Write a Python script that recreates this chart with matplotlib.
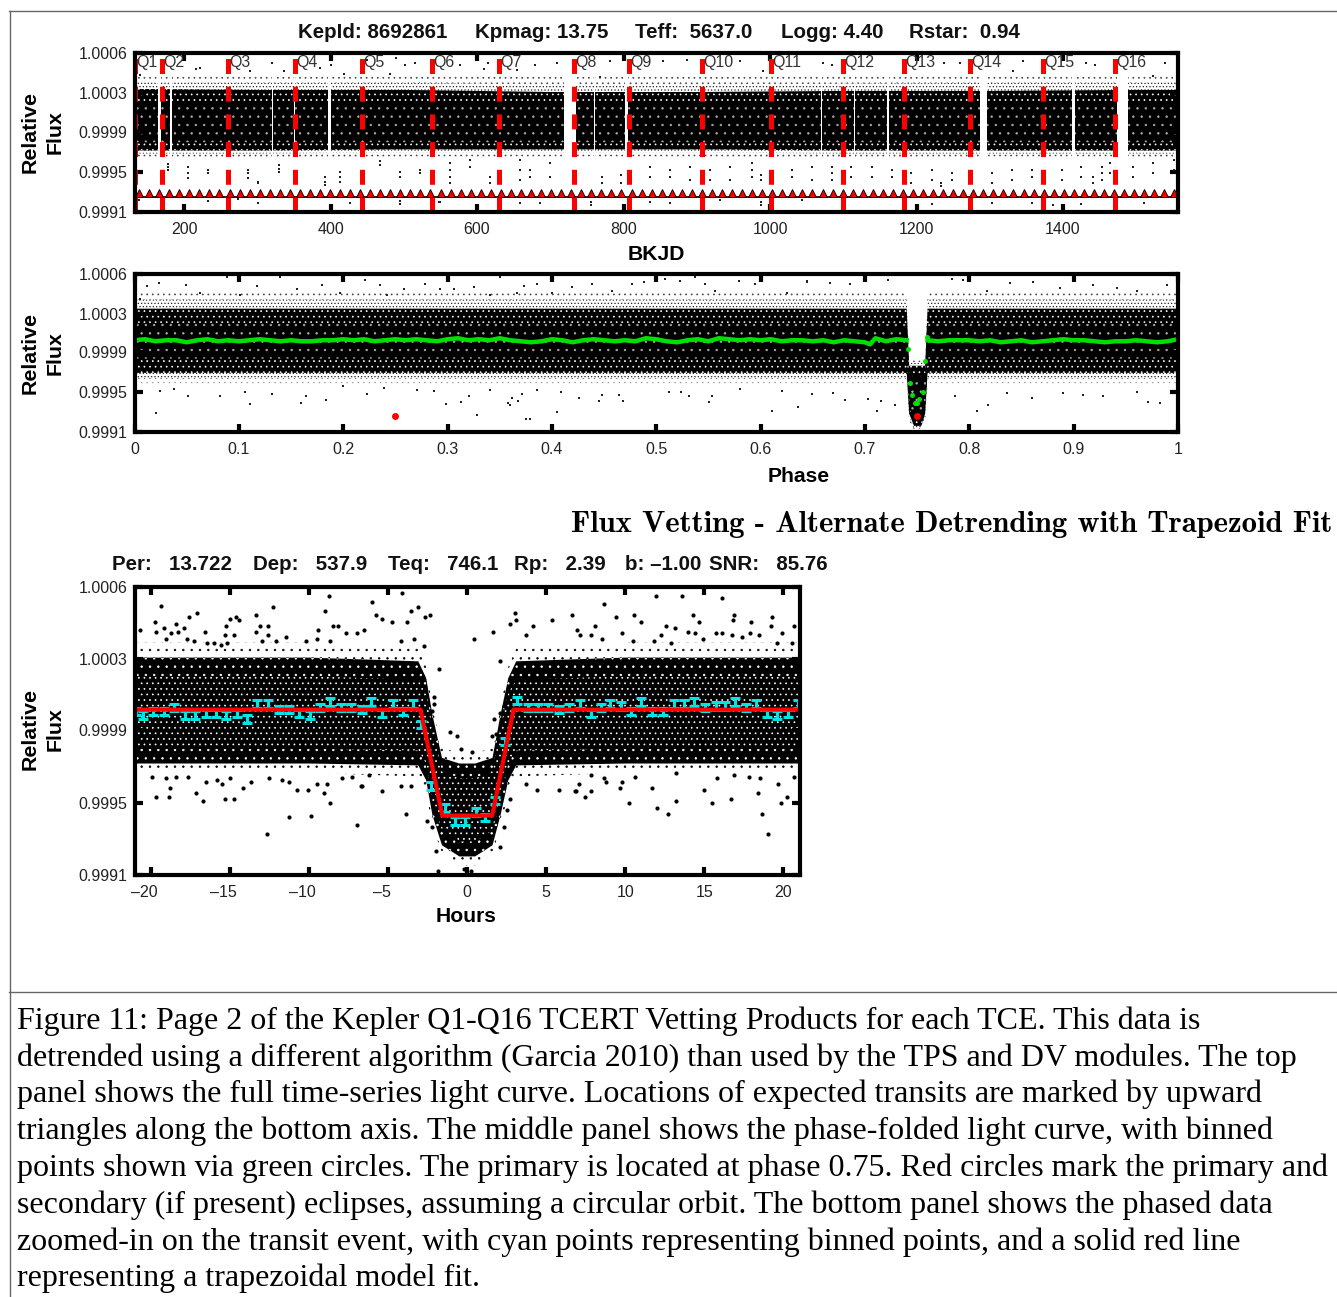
import matplotlib
matplotlib.use('Agg')
import matplotlib.pyplot as plt
from matplotlib.lines import Line2D

plt.rcParams['font.family'] = ['Liberation Sans', 'DejaVu Sans']
plt.rcParams['hatch.linewidth'] = 0.5

W, H = 1337, 1297

# top panel: light curve
tick_y = [0.9991, 0.99949, 0.99988, 1.00026, 1.00065]
tick_y_labels = ['0.9991', '0.9995', '0.9999', '1.0003', '1.0006']
ylims = (0.9991, 1.00065)
bkjd_ticks = [200, 400, 600, 800, 1000, 1200, 1400]
q_names = ['Q1', 'Q2', 'Q3', 'Q4', 'Q5', 'Q6', 'Q7', 'Q8', 'Q9', 'Q10', 'Q11', 'Q12', 'Q13', 'Q14', 'Q15', 'Q16']
q_starts = [133.1, 169.6, 260, 351.5, 443, 538.6, 630, 732.4, 807.5, 907, 1001.4, 1099.7, 1183, 1273, 1372.7, 1471]
gap_from = [165, 181, 320, 350, 396, 719, 760, 802, 1069, 1114, 1160, 1287, 1412, 1474]
gap_to = [169, 184, 322, 352, 400, 735, 761, 806, 1071, 1116, 1163, 1296, 1416, 1489]
band_t = [132, 300, 500, 700, 900, 1100, 1300, 1500, 1557]
lc_outer_hi = [1.00044, 1.00043, 1.00044, 1.00042, 1.00042, 1.00043, 1.00044, 1.00043, 1.00045]
lc_outer_lo = [0.99964, 0.99963, 0.99964, 0.99964, 0.99964, 0.99963, 0.99964, 0.99964, 0.99963]
lc_fade_hi = [1.00037, 1.00036, 1.00036, 1.00034, 1.00034, 1.00035, 1.00036, 1.00036, 1.00037]
lc_fade_lo = [0.99967, 0.99967, 0.99968, 0.99968, 0.99968, 0.99967, 0.99967, 0.99967, 0.99967]
lc_mid_hi = [1.00030, 1.00029, 1.00029, 1.00027, 1.00027, 1.00028, 1.00028, 1.00029, 1.00029]
lc_mid_lo = [0.99970, 0.99970, 0.99971, 0.99971, 0.99971, 0.99970, 0.99970, 0.99970, 0.99970]
lc_core_hi = [1.00018, 1.00017, 1.00017, 1.00017, 1.00017, 1.00017, 1.00017, 1.00017, 1.00017]
lc_core_lo = [0.99978, 0.99978, 0.99978, 0.99978, 0.99978, 0.99978, 0.99978, 0.99978, 0.99978]
transit_t = [138.6, 152.3, 166.0, 179.8, 193.5, 207.2, 220.9, 234.7, 248.4, 262.1, 275.8, 289.5, 303.3,
             317.0, 330.7, 344.4, 358.2, 371.9, 385.6, 399.3, 413.0, 426.8, 440.5, 454.2, 467.9, 481.7,
             495.4, 509.1, 522.8, 536.5, 550.3, 564.0, 577.7, 591.4, 605.1, 618.9, 632.6, 646.3, 660.0,
             673.8, 687.5, 701.2, 714.9, 728.6, 742.4, 756.1, 769.8, 783.5, 797.2, 811.0, 824.7, 838.4,
             852.1, 865.9, 879.6, 893.3, 907.0, 920.7, 934.5, 948.2, 961.9, 975.6, 989.3, 1003.1, 1016.8,
             1030.5, 1044.2, 1058.0, 1071.7, 1085.4, 1099.1, 1112.8, 1126.6, 1140.3, 1154.0, 1167.7, 1181.4,
             1195.2, 1208.9, 1222.6, 1236.3, 1250.1, 1263.8, 1277.5, 1291.2, 1304.9, 1318.7, 1332.4, 1346.1,
             1359.8, 1373.5, 1387.3, 1401.0, 1414.7, 1428.4, 1442.2, 1455.9, 1469.6, 1483.3, 1497.0, 1510.8,
             1524.5, 1538.2, 1551.9]
lc_t = [178.6, 178.6, 178.6, 206, 206, 206, 233, 233, 288, 288, 288, 301.5, 301.5, 330, 330, 330, 392.5, 392.5, 392.5,
        413, 413, 413, 468, 468, 495, 495, 522, 522, 563, 563, 563, 563, 590, 590, 618, 618, 659, 659, 659, 672, 672,
        700, 700, 770, 770, 797, 797, 836, 836, 863, 863, 891, 891, 918, 918, 945, 945, 975, 975, 975, 988, 988,
        1030, 1030, 1057, 1057, 1084, 1084, 1084, 1111, 1111, 1139, 1139, 1166, 1166, 1193, 1193, 1221, 1221, 1234, 1234,
        1248, 1248, 1303, 1303, 1330, 1330, 1357, 1357, 1398, 1398, 1425, 1425, 1441, 1441, 1453, 1453, 1453, 1464, 1464,
        1496, 1496, 1523, 1523, 1551, 1551,
        138, 233, 274, 301, 426, 495, 495, 548, 549, 659, 686, 755, 755, 836, 863, 932, 988, 988,
        1043, 1221, 1303, 1357, 1387, 1425, 1510,
        222, 217, 320, 490, 502, 515, 577, 450, 401, 290, 336, 140, 386, 418, 481, 609, 654, 679, 709, 615, 768, 781,
        854, 886, 959, 991, 1073, 1084, 1237, 1259, 1346, 1432, 1444, 1539, 1332, 1523]
lc_f = [0.99957, 0.99954, 0.99951, 0.99954, 0.99948, 0.99943, 0.99951, 0.99948, 0.99951, 0.99948, 0.99943, 0.99939, 0.99938,
        0.99956, 0.99952, 0.99949, 0.99944, 0.99939, 0.99936, 0.99949, 0.99944, 0.99939, 0.99960, 0.99956, 0.99949, 0.99944,
        0.99951, 0.99948, 0.99958, 0.99951, 0.99944, 0.99938, 0.99961, 0.99954, 0.99944, 0.99938, 0.99961, 0.99951, 0.99941,
        0.99951, 0.99944, 0.99958, 0.99944, 0.99944, 0.99938, 0.99946, 0.99938, 0.99954, 0.99944, 0.99951, 0.99944, 0.99954,
        0.99941, 0.99951, 0.99941, 0.99954, 0.99941, 0.99958, 0.99951, 0.99944, 0.99946, 0.99941,
        0.99951, 0.99944, 0.99954, 0.99941, 0.99954, 0.99948, 0.99941, 0.99954, 0.99944, 0.99954, 0.99944, 0.99951, 0.99944,
        0.99948, 0.99938, 0.99951, 0.99941, 0.99938, 0.99935, 0.99948, 0.99941, 0.99948, 0.99938, 0.99951, 0.99941, 0.99951,
        0.99944, 0.99951, 0.99941, 0.99954, 0.99944, 0.99944, 0.99938, 0.99954, 0.99948, 0.99941, 0.99958, 0.99948,
        0.99954, 0.99944, 0.99958, 0.99948, 0.99961, 0.99951,
        0.99922, 0.99921, 0.99923, 0.99919, 0.99919, 0.99921, 0.99918, 0.99920, 0.99920, 0.99919, 0.99919, 0.99920, 0.99917,
        0.99920, 0.99919, 0.99922, 0.99920, 0.99917,
        0.99922, 0.99918, 0.99919, 0.99919, 0.99917, 0.99918, 0.99919,
        1.00050, 1.00049, 1.00055, 1.00060, 1.00053, 1.00055, 1.00053, 1.00058, 1.00053, 1.00047, 1.00047, 1.00044, 1.00050,
        1.00045, 1.00045, 1.00049, 1.00048, 1.00053, 1.00055, 1.00055, 1.00042, 1.00057,
        1.00057, 1.00058, 1.00057, 1.00047, 1.00055, 1.00053, 1.00055, 1.00055, 1.00057, 1.00055, 1.00053, 1.00055, 1.00047, 1.00043]

# middle panel: phase folded
phase_ticks = [0, 0.1, 0.2, 0.3, 0.4, 0.5, 0.6, 0.7, 0.8, 0.9, 1]
phase_labels = ['0', '0.1', '0.2', '0.3', '0.4', '0.5', '0.6', '0.7', '0.8', '0.9', '1']
band_p = [0, 0.2, 0.4, 0.6, 0.735, 0.7400, 0.7424, 0.7470, 0.7540, 0.7577, 0.7600, 0.7650, 0.85, 1]
pf_outer_hi = [1.00049, 1.00049, 1.00049, 1.00049, 1.00049, 1.00049, 0.99980, 0.99980, 0.99980, 0.99980, 1.00049, 1.00049, 1.00049, 1.00049]
pf_outer_lo = [0.99958, 0.99958, 0.99958, 0.99958, 0.99958, 0.99958, 0.99920, 0.99912, 0.99912, 0.99920, 0.99958, 0.99958, 0.99958, 0.99958]
pf_fade_hi = [1.00040, 1.00040, 1.00040, 1.00040, 1.00040, 1.00040, 0.99978, 0.99978, 0.99978, 0.99978, 1.00040, 1.00040, 1.00040, 1.00040]
pf_fade_lo = [0.99963, 0.99963, 0.99963, 0.99963, 0.99963, 0.99963, 0.99924, 0.99914, 0.99914, 0.99924, 0.99963, 0.99963, 0.99963, 0.99963]
pf_mid_hi = [1.00031, 1.00031, 1.00031, 1.00031, 1.00031, 1.00031, 0.99975, 0.99975, 0.99975, 0.99975, 1.00031, 1.00031, 1.00031, 1.00031]
pf_mid_lo = [0.99968, 0.99968, 0.99968, 0.99968, 0.99968, 0.99968, 0.99928, 0.99916, 0.99916, 0.99928, 0.99968, 0.99968, 0.99968, 0.99968]
pf_core_hi = [1.00017, 1.00017, 1.00017, 1.00017, 1.00017, 1.00017, 0.99965, 0.99965, 0.99965, 0.99965, 1.00017, 1.00017, 1.00017, 1.00017]
pf_core_lo = [0.99982, 0.99982, 0.99982, 0.99982, 0.99982, 0.99982, 0.99934, 0.99922, 0.99922, 0.99934, 0.99982, 0.99982, 0.99982, 0.99982]
pf_p = [0.0207, 0.111, 0.1596, 0.1647, 0.1839, 0.2988, 0.2228, 0.1318, 0.106, 0.0817, 0.0514, 0.0249, 0.0376, 0.2, 0.2707, 0.2388, 0.2867,
        0.0239, 0.0494, 0.0887, 0.1174, 0.1398, 0.1797, 0.221, 0.2356, 0.2787, 0.2579, 0.0121, 0.0057, 0.0632, 0.1015, 0.1558, 0.197, 0.242, 0.293,
        0.7113, 0.7289, 0.7155, 0.7034, 0.681, 0.6692, 0.6491, 0.7864, 0.8177, 0.8071, 0.8604, 0.9715, 0.9827, 0.9604, 0.9285, 0.9093, 0.8901, 0.8359,
        0.6443, 0.6666, 0.6858, 0.7225, 0.74, 0.7832, 0.7943, 0.8614, 0.839, 0.9189, 0.9891, 0.9604, 0.9412, 0.887, 0.8167,
        0.3282, 0.3755, 0.3787, 0.4048, 0.6108, 0.6354, 0.2985, 0.3129, 0.3576, 0.3602, 0.3672, 0.3617, 0.3713, 0.3202, 0.341, 0.3857, 0.4087, 0.4256,
        0.4448, 0.448, 0.4639, 0.468, 0.5118, 0.5236, 0.531, 0.5501, 0.5533, 0.5805, 0.6204, 0.6491,
        0.3499, 0.3857, 0.3729, 0.325, 0.4384, 0.4192, 0.4767, 0.4879, 0.5086, 0.523, 0.5469, 0.5374, 0.5789, 0.5948, 0.6443, 0.3059, 0.341, 0.3665, 0.4,
        0.4575, 0.5565, 0.6252]
pf_f = [0.99929, 0.99937, 0.99938, 0.99945, 0.99941, 0.99937, 0.99947, 0.99947, 0.99949, 0.99945, 0.99945, 0.99950, 0.99952, 0.99955, 0.99951, 0.99953, 0.99950,
        1.00056, 1.00054, 1.00062, 1.00053, 1.00062, 1.00054, 1.00059, 1.00054, 1.00055, 1.00050, 1.00053, 1.00040, 1.00046, 1.00044, 1.00050, 1.00046, 1.00044, 1.00050,
        0.99931, 0.99936, 0.99940, 0.99942, 0.99941, 0.99948, 0.99947, 0.99945, 0.99936, 0.99931, 0.99943, 0.99939, 0.99938, 0.99949, 0.99945, 0.99946, 0.99948, 0.99948,
        1.00057, 1.00056, 1.00055, 1.00059, 1.00064, 1.00060, 1.00059, 1.00057, 1.00056, 1.00054, 1.00054, 1.00048, 1.00051, 1.00051, 1.00048,
        0.99927, 0.99923, 0.99923, 0.99930, 0.99931, 0.99935, 0.99937, 0.99939, 0.99938, 0.99936, 0.99940, 0.99943, 0.99947, 0.99945, 0.99951, 0.99951, 0.99949, 0.99943,
        0.99940, 0.99946, 0.99946, 0.99940, 0.99949, 0.99949, 0.99945, 0.99939, 0.99945, 0.99952, 0.99950, 0.99947,
        1.00062, 1.00055, 1.00053, 1.00052, 1.00055, 1.00052, 1.00055, 1.00057, 1.00060, 1.00058, 1.00055, 1.00062, 1.00058, 1.00055, 1.00058, 1.00050, 1.00044, 1.00046, 1.00046,
        1.00048, 1.00048, 1.00046]
bin_p_left = [0.00, 0.01, 0.02, 0.03, 0.04, 0.05, 0.06, 0.07, 0.08, 0.09, 0.10, 0.11, 0.12, 0.13, 0.14, 0.15, 0.16, 0.17, 0.18, 0.19,
              0.20, 0.21, 0.22, 0.23, 0.24, 0.25, 0.26, 0.27, 0.28, 0.29, 0.30, 0.31, 0.32, 0.33, 0.34, 0.35, 0.36, 0.37, 0.38, 0.39,
              0.40, 0.41, 0.42, 0.43, 0.44, 0.45, 0.46, 0.47, 0.48, 0.49, 0.50, 0.51, 0.52, 0.53, 0.54, 0.55, 0.56, 0.57, 0.58, 0.59,
              0.60, 0.61, 0.62, 0.63, 0.64, 0.65, 0.66, 0.67, 0.68, 0.69, 0.70, 0.705, 0.71, 0.72, 0.73, 0.74]
bin_f_left = [1.00000, 1.00001, 0.99999, 1.00000, 1.00000, 0.99998, 1.00000, 1.00001, 0.99999, 1.00000, 0.99999, 1.00000, 1.00001, 1.00000, 0.99999, 1.00000, 0.99999, 0.99999, 1.00000, 1.00000,
              1.00001, 1.00000, 1.00001, 0.99999, 1.00000, 1.00001, 1.00000, 1.00001, 1.00000, 0.99999, 1.00001, 1.00002, 1.00000, 1.00001, 1.00000, 1.00002, 1.00000, 0.99999, 0.99998, 0.99999,
              1.00001, 1.00000, 0.99998, 1.00000, 1.00001, 1.00000, 0.99999, 1.00000, 0.99999, 1.00002, 1.00001, 0.99999, 0.99998, 1.00000, 1.00001, 0.99999, 1.00002, 1.00001, 1.00000, 1.00001,
              1.00000, 1.00001, 0.99999, 1.00000, 1.00000, 0.99999, 1.00000, 0.99998, 1.00000, 0.99999, 0.99998, 0.99996, 1.00002, 0.99999, 1.00001, 1.00000]
bin_p_right = [0.76, 0.77, 0.78, 0.79, 0.80, 0.81, 0.82, 0.83, 0.84, 0.85, 0.86, 0.87, 0.88, 0.89, 0.90, 0.91, 0.92, 0.93, 0.94, 0.95, 0.96, 0.97, 0.98, 0.99, 1.0]
bin_f_right = [1.00000, 0.99999, 1.00000, 1.00000, 1.00000, 0.99999, 1.00000, 0.99998, 0.99999, 1.00000, 0.99998, 0.99999, 1.00000, 1.00001, 1.00000, 1.00000, 0.99999, 0.99998, 0.99999, 0.99999, 1.00000, 0.99999, 0.99998, 0.99999, 1.00001]
bin_p_dip = [0.7411, 0.7577, 0.7596, 0.7436, 0.7455, 0.7481, 0.7497, 0.7522, 0.7554]
bin_f_dip = [0.99991, 0.99980, 1.00003, 0.99958, 0.99946, 0.99938, 0.99938, 0.99942, 0.99949]
eclipse_p = [0.25, 0.75]
eclipse_f = [0.99926, 0.99926]

# bottom panel: zoom on the transit
hour_ticks = [-20, -15, -10, -5, 0, 5, 10, 15, 20]
hour_labels = ['–20   ', '–15   ', '–10   ', '–5   ', '0', '5', '10', '15', '20']
band_h = [-21.07, -10, -3.1, -2.6, -2.2, -1.6, -0.5, 0.5, 1.6, 2.1, 2.6, 3.1, 10, 21.07]
zm_outer_hi = [1.00035, 1.00035, 1.00032, 1.00022, 1.00000, 0.99978, 0.99976, 0.99976, 0.99978, 1.00000, 1.00022, 1.00032, 1.00035, 1.00035]
zm_outer_lo = [0.99965, 0.99965, 0.99963, 0.99954, 0.99936, 0.99922, 0.99915, 0.99915, 0.99922, 0.99936, 0.99954, 0.99963, 0.99965, 0.99965]
zm_mid_hi = [1.00027, 1.00027, 1.00025, 1.00016, 0.99996, 0.99973, 0.99970, 0.99970, 0.99973, 0.99996, 1.00016, 1.00025, 1.00027, 1.00027]
zm_mid_lo = [0.99970, 0.99970, 0.99969, 0.99961, 0.99942, 0.99926, 0.99920, 0.99920, 0.99926, 0.99942, 0.99961, 0.99969, 0.99970, 0.99970]
zm_core_hi = [1.00017, 1.00017, 1.00015, 1.00008, 0.99990, 0.99966, 0.99962, 0.99962, 0.99966, 0.99990, 1.00008, 1.00015, 1.00017, 1.00017]
zm_core_lo = [0.99978, 0.99978, 0.99977, 0.99970, 0.99950, 0.99934, 0.99928, 0.99928, 0.99934, 0.99950, 0.99970, 0.99977, 0.99978, 0.99978]
zm_h = [-19.42, -17.11, -17.62, -19.8, -18.47, -15.3, -15.05, -14.67, -14.44, -13.4, -12.28, -13.15, -12.6, -13.4, -8.76, -9.0, -8.5, -8.17, -9.46,
        -16.63, -20.74, -19.2, -19.73, -18.3, -17.94, -15.34, -14.77, -12.6, -6.55, -6.97, -7.7, -18.78, -19.1, -17.73, -17.3, -16.5, -16.04, -15.6,
        -15.2, -13, -11.5, -12.14, -10.2, -9.54, -8.72,
        -19.7, -18.9, -18.8, -17.16, -16.74, -15.36, -14.77, -12.68, -11.29, -9.88, -6.97, -8.68, -6.71, -9.06, -10.79, -10.07, -14.2, -19.94, -19.1,
        -18.47, -17.66, -16.57, -15.83, -15.5, -15.05, -13.72, -12.56, -11.7, -11.3, -9.5, -8.87, -7.92, -7.28,
        8.67, 11.94, 13.57, 16.1, 9.41, 10.59, 11.03, 14.32, 14.66, 16.9, 16.8, 17.97, 19.3, 19.24, 20.67, 8.12, 12.6, 13.14, 13.99, 14.39, 15.72, 16.16,
        9.81, 19.9, 17.93, 7.85, 8.54, 12.24, 10.49, 11.81, 12.87, 14.92, 16.77, 17.4, 18.46, 19.62, 20.57, 6.96, 7.17,
        6.86, 7.47, 7.85, 7.07, 8.8, 9.81, 9.7, 10.27, 12.03, 12.7, 13.23, 11.71, 14.98, 15.5, 16.67, 18.4, 18.69, 19.07, 19.89, 20.25, 19.7, 7.81, 8.65,
        10.65, 13.19, 15.82, 16.88, 17.83, 18.56, 20.68,
        -6.0, -4.12, -5.8, -3.55, -3.1, -2.36, -2.68, -5.38, -3.8, -4.75, -3.38, -4.22, -2.74, -1.8, 0.44, 1.6, 2.05, 3, 3.08, 2.68, 3.73, 4.18, 5.38, 6.64,
        -1.12, -0.63, 1.69, 1.79, -0.42, 0.31, 1.58, -2.11, -2.11, -2.22, 2.32, 2.1,
        -3.86, -5.38, -4.22, -3.59, -6.22, -6.69, 3.69, 4.39, 5.8, 6.85,
        -2, -2.22, -2.53, 2.7, 2.53, 2.32, 2.1, -1.86, -0.2, 0.21]
zm_f = [1.00055, 1.00051, 1.00049, 1.00046, 1.00045, 1.00044, 1.00048, 1.00049, 1.00047, 1.00050, 1.00054, 1.00044, 1.00044, 1.00041, 1.00060, 1.00052, 1.00044, 1.00044, 1.00042,
        1.00041, 1.00042, 1.00043, 1.00041, 1.00041, 1.00043, 1.00039, 1.00039, 1.00039, 1.00042, 1.00040, 1.00040, 1.00040, 1.00037, 1.00037, 1.00036, 1.00035, 1.00035, 1.00034,
        1.00035, 1.00036, 1.00038, 1.00036, 1.00036, 1.00037, 1.00036,
        0.99952, 0.99952, 0.99957, 0.99954, 0.99950, 0.99951, 0.99951, 0.99932, 0.99941, 0.99942, 0.99937, 0.99949, 0.99958, 0.99954, 0.99956, 0.99956, 0.99957, 0.99963, 0.99962,
        0.99963, 0.99963, 0.99960, 0.99961, 0.99959, 0.99962, 0.99960, 0.99962, 0.99961, 0.99960, 0.99959, 0.99959, 0.99962, 0.99963,
        1.00056, 1.00060, 1.00060, 1.00059, 1.00049, 1.00050, 1.00046, 1.00050, 1.00046, 1.00050, 1.00047, 1.00046, 1.00049, 1.00044, 1.00044, 1.00044, 1.00044, 1.00043, 1.00041, 1.00040, 1.00040, 1.00040,
        1.00040, 1.00040, 1.00040, 1.00039, 1.00037, 1.00039, 1.00036, 1.00036, 1.00035, 1.00037, 1.00039, 1.00038, 1.00039, 1.00035, 1.00035, 1.00042, 1.00039,
        0.99955, 0.99952, 0.99955, 0.99959, 0.99960, 0.99960, 0.99957, 0.99949, 0.99946, 0.99943, 0.99950, 0.99957, 0.99956, 0.99949, 0.99951, 0.99954, 0.99943, 0.99932, 0.99949, 0.99952, 0.99959, 0.99964, 0.99962,
        0.99963, 0.99965, 0.99962, 0.99964, 0.99963, 0.99962, 0.99963,
        1.00057, 1.00062, 1.00050, 1.00052, 1.00054, 1.00050, 1.00049, 1.00048, 1.00046, 1.00046, 1.00037, 1.00036, 1.00033, 1.00021, 1.00037, 1.00041, 1.00025, 1.00051, 1.00047, 1.00045, 1.00039, 1.00044, 1.00047, 1.00050,
        0.99987, 0.99985, 0.99994, 0.99986, 0.99978, 0.99976, 0.99985, 1.00006, 1.00002, 0.99998, 1.00001, 0.99997,
        0.99943, 0.99955, 0.99958, 0.99958, 0.99964, 0.99958, 0.99959, 0.99956, 0.99956, 0.99955,
        0.99923, 0.99936, 0.99939, 0.99951, 0.99945, 0.99936, 0.99925, 0.99912, 0.99913, 0.99912]
cyan_h = [-20.99, -20.53, -19.9, -19.2, -18.57, -17.9, -17.24, -16.57, -15.93, -15.26, -14.6, -13.93, -13.3, -12.62, -11.93, -11.29, -10.66,
          -9.96, -9.35, -8.71, -8.02, -7.34, -6.69, -6.08, -5.38, -4.71, -4.07, -3.42, -2.96, -2.32, -1.44, -0.8, -0.17, 0.53, 1.1, 1.73, 2.36,
          3.16, 3.84, 4.47, 5.1, 5.8, 6.43, 7.13, 7.81, 8.44, 9.07, 9.75, 10.4, 11.03, 11.71, 12.38, 13.08, 13.71, 14.35, 15.08, 15.72, 16.35,
          16.94, 17.62, 18.31, 18.99, 19.62, 20.3, 20.93]
cyan_f = [0.99998, 0.99996, 0.99998, 0.99998, 1.00000, 0.99996, 0.99996, 0.99997, 0.99997, 0.99996, 0.99997, 0.99994, 1.00002, 1.00002, 0.99999, 0.99999, 0.99997,
          0.99996, 1.00000, 1.00003, 1.00000, 1.00000, 0.99999, 1.00003, 0.99997, 1.00002, 0.99998, 1.00002, 0.99991, 0.99958, 0.99946, 0.99939, 0.99939, 0.99944, 0.99941, 0.99950, 0.99982,
          1.00004, 1.00000, 1.00000, 1.00000, 0.99999, 1.00000, 1.00002, 0.99997, 1.00000, 1.00002, 1.00001, 0.99998, 1.00003, 0.99998, 0.99998, 1.00002, 1.00002, 1.00003, 1.00000, 1.00001, 1.00001,
          1.00003, 1.00000, 1.00002, 0.99997, 0.99996, 0.99997, 1.00002]
model_h = [-21.07, -2.96, -1.58, 1.58, 2.93, 21.07]
model_f = [0.99999, 0.99999, 0.99942, 0.99942, 0.99999, 0.99999]

caption = [
    'Figure 11: Page 2 of the Kepler Q1-Q16 TCERT Vetting Products for each TCE. This data is',
    'detrended using a different algorithm (Garcia 2010) than used by the TPS and DV modules. The top',
    'panel shows the full time-series light curve. Locations of expected transits are marked by upward',
    'triangles along the bottom axis. The middle panel shows the phase-folded light curve, with binned',
    'points shown via green circles. The primary is located at phase 0.75. Red circles mark the primary and',
    'secondary (if present) eclipses, assuming a circular orbit. The bottom panel shows the phased data',
    'zoomed-in on the transit event, with cyan points representing binned points, and a solid red line',
    'representing a trapezoidal model fit.',
]
caption_y = [1021.5, 1058.5, 1094.5, 1131.5, 1168.5, 1205.5, 1242.5, 1278.5]


def px_axes(fig, left, top, right, bottom):
    return fig.add_axes([left / W, 1 - bottom / H, (right - left) / W, (bottom - top) / H])


def label(fig, x, y, s, **kw):
    kw.setdefault('va', 'center')
    fig.text(x / W, 1 - y / H, s, **kw)


def style(ax, xticks, xlabels):
    ax.set_ylim(*ylims)
    ax.set_yticks(tick_y)
    ax.set_yticklabels(tick_y_labels)
    ax.set_xticks(xticks)
    ax.set_xticklabels(xlabels)
    ax.tick_params(direction='in', length=6, width=3, top=True, right=True, labelsize=11.5,
                   labelcolor='#222222', pad=7)
    ax.tick_params(axis='y', pad=5)
    for sp in ax.spines.values():
        sp.set_linewidth(3)
        sp.set_zorder(10)


def band(ax, x, lo, hi, kind):
    # texture stands in for the thousands of overlapping points
    if kind == 'outer':
        ax.fill_between(x, lo, hi, facecolor='white', edgecolor='#444444', hatch='...', linewidth=0, zorder=1)
    elif kind == 'fade':
        ax.fill_between(x, lo, hi, facecolor='white', edgecolor='#222222', hatch='.....', linewidth=0, zorder=1.05)
    elif kind == 'mid':
        ax.fill_between(x, lo, hi, facecolor='black', edgecolor='white', hatch='...', linewidth=0, zorder=1.1)
    else:
        ax.fill_between(x, lo, hi, facecolor='black', edgecolor='#aaaaaa', hatch='..', linewidth=0, zorder=1.2)


fig = plt.figure(figsize=(W / 100, H / 100), dpi=100, facecolor='white')

# page frame
for xs, ys in [((9.5, 9.5), (11, H)), ((9, W), (11, 11)), ((9, W), (991.5, 991.5))]:
    fig.add_artist(Line2D([x / W for x in xs], [1 - y / H for y in ys], color='#666666', lw=1))

# top panel
ax1 = px_axes(fig, 134.5, 53, 1178, 212)
ax1.set_xlim(132.4, 1557)
style(ax1, bkjd_ticks, [str(t) for t in bkjd_ticks])
band(ax1, band_t, lc_outer_lo, lc_outer_hi, 'outer')
band(ax1, band_t, lc_fade_lo, lc_fade_hi, 'fade')
band(ax1, band_t, lc_mid_lo, lc_mid_hi, 'mid')
band(ax1, band_t, lc_core_lo, lc_core_hi, 'core')
for a, b in zip(gap_from, gap_to):
    ax1.axvspan(a, b, ymin=0.28, ymax=0.92, color='white', lw=0, zorder=1.5)
ax1.plot(lc_t, lc_f, ls='none', marker='s', ms=1.6, color='#222222', mew=0, zorder=2)
ax1.axhline(0.99925, color='black', lw=1.2, zorder=3)
ax1.plot(transit_t, [0.99929] * len(transit_t), ls='none', marker='^', ms=5.8, mfc='#f00000', mec='black', mew=0.6, zorder=3)
for q, name in zip(q_starts, q_names):
    ax1.plot([q, q], ylims, color='#ff0000', lw=3.6, ls=(0, (3, 2.54)), zorder=4)
    ax1.annotate(name, (q, 1), xycoords=('data', 'axes fraction'), xytext=(1, -7), textcoords='offset points',
                 fontsize=11.5, color='#333333', va='center', ha='left', zorder=5)

# middle panel
ax2 = px_axes(fig, 134.5, 274, 1178, 432)
ax2.set_xlim(0, 1)
style(ax2, phase_ticks, phase_labels)
band(ax2, band_p, pf_outer_lo, pf_outer_hi, 'outer')
band(ax2, band_p, pf_fade_lo, pf_fade_hi, 'fade')
band(ax2, band_p, pf_mid_lo, pf_mid_hi, 'mid')
band(ax2, band_p, pf_core_lo, pf_core_hi, 'core')
ax2.plot(pf_p, pf_f, ls='none', marker='s', ms=1.6, color='#222222', mew=0, zorder=2)
ax2.plot(bin_p_left, bin_f_left, color='#00e000', lw=3.2, zorder=3)
ax2.plot(bin_p_right, bin_f_right, color='#00e000', lw=3.2, zorder=3)
ax2.plot(bin_p_dip, bin_f_dip, ls='none', marker='o', ms=3.6, color='#00e000', mew=0, zorder=3)
ax2.plot(eclipse_p, eclipse_f, ls='none', marker='o', ms=5, color='#ff0000', mew=0, zorder=4)

# bottom panel
ax3 = px_axes(fig, 134.5, 587, 800, 875)
ax3.set_xlim(-21.07, 21.07)
style(ax3, hour_ticks, hour_labels)
ax3.fill_between(band_h, zm_outer_lo, zm_outer_hi, facecolor='white', edgecolor='black', hatch='..', linewidth=0, zorder=1)
ax3.fill_between(band_h, zm_mid_lo, zm_mid_hi, facecolor='black', edgecolor='white', hatch='..', linewidth=0, zorder=1.1)
ax3.fill_between(band_h, zm_core_lo, zm_core_hi, facecolor='black', edgecolor='white', hatch='...', linewidth=0, zorder=1.2)
ax3.plot(zm_h, zm_f, ls='none', marker='o', ms=3, color='black', mew=0, zorder=2)
ax3.errorbar(cyan_h, cyan_f, yerr=0.00002, fmt='none', ecolor='#00e5e5', elinewidth=2.2, capsize=3.5, capthick=2.2, zorder=3)
ax3.plot(model_h, model_f, color='#ff0000', lw=3, zorder=4, solid_joinstyle='round')

# headers
for x, s in [(298, 'KepId: 8692861'), (475, 'Kpmag: 13.75'), (635, 'Teff:  5637.0'), (781, 'Logg: 4.40'), (909, 'Rstar:  0.94')]:
    label(fig, x, 33, s, fontsize=14.8, fontweight='bold', color='#111111')
for x, s in [(112, 'Per:   13.722'), (253, 'Dep:   537.9'), (388, 'Teq:   746.1'), (514, 'Rp:   2.39'), (625, 'b: –1.00'), (709, 'SNR:   85.76')]:
    label(fig, x, 565, s, fontsize=14.8, fontweight='bold', color='#111111')
for y in [132, 353, 729]:
    label(fig, 30, y, 'Relative', fontsize=15.4, fontweight='bold', rotation=90, ha='center')
    label(fig, 55, y, 'Flux', fontsize=15.4, fontweight='bold', rotation=90, ha='center')
label(fig, 656, 255, 'BKJD', fontsize=15.2, fontweight='bold', ha='center')
label(fig, 799, 476, 'Phase', fontsize=15.2, fontweight='bold', ha='center')
label(fig, 466, 917, 'Hours', fontsize=15.2, fontweight='bold', ha='center')
label(fig, 571, 524, 'Flux Vetting - Alternate Detrending with Trapezoid Fit', fontsize=22.1, family='cmb10')

for y, line in zip(caption_y, caption):
    label(fig, 17, y, line, fontsize=23, family='Liberation Serif', color='black')

fig.savefig('out.png', dpi=100, facecolor='white')
